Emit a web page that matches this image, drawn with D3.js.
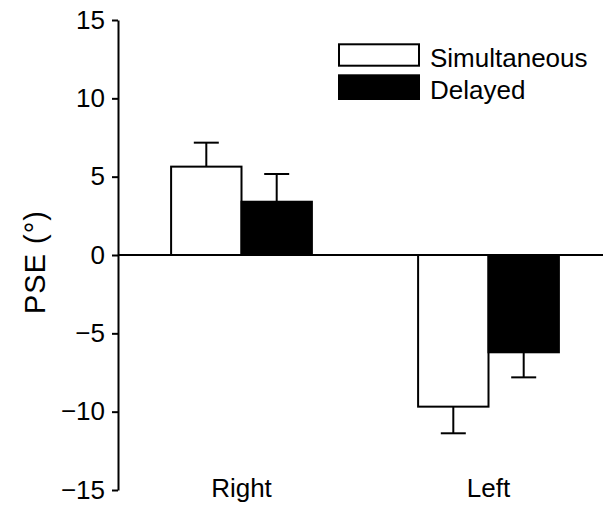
<!DOCTYPE html>
<html>
<head>
<meta charset="utf-8">
<script src="https://cdn.jsdelivr.net/npm/d3@7"></script>
<style>
  body { margin: 0; background: #fff; }
  svg { display: block; font-family: "Liberation Sans", Arial, sans-serif; }
</style>
</head>
<body>
<div id="chart"></div>
<script>
const categories = ["Right", "Left"];
const series = ["Simultaneous", "Delayed"];
const seriesFill = ["#fff", "#000"];
const means = [[5.64, 3.4], [-9.68, -6.21]];
const errors = [[1.53, 1.77], [1.7, 1.6]];
const yTicks = [-15, -10, -5, 0, 5, 10, 15];

const width = 603, height = 512;
const axisX = 118;

const svg = d3.select("#chart").append("svg")
  .attr("width", width)
  .attr("height", height);

let y = d3.scaleLinear()
  .domain([-15, 15])
  .range([490, 20]);

let x0 = d3.scaleBand()
  .domain(categories)
  .range([axisX, 612])
  .paddingInner(0.43)
  .paddingOuter(0.215);

let x1 = d3.scaleBand()
  .domain(series)
  .range([0, x0.bandwidth()]);

let rows = [];
categories.forEach((c, i) => {
  series.forEach((s, j) => {
    rows.push({ cat: c, ser: s, j: j, value: means[i][j], err: errors[i][j] });
  });
});

// error bars first, bars drawn over them
const errG = svg.append("g")
  .attr("stroke", "#000")
  .attr("stroke-width", 2);

errG.selectAll("line.stem")
  .data(rows)
  .join("line")
  .attr("class", "stem")
  .attr("x1", d => x0(d.cat) + x1(d.ser) + x1.bandwidth() / 2)
  .attr("x2", d => x0(d.cat) + x1(d.ser) + x1.bandwidth() / 2)
  .attr("y1", d => y(d.value))
  .attr("y2", d => y(d.value + Math.sign(d.value) * d.err));

errG.selectAll("line.cap")
  .data(rows)
  .join("line")
  .attr("class", "cap")
  .attr("x1", d => x0(d.cat) + x1(d.ser) + x1.bandwidth() / 2 - 12.5)
  .attr("x2", d => x0(d.cat) + x1(d.ser) + x1.bandwidth() / 2 + 12.5)
  .attr("y1", d => y(d.value + Math.sign(d.value) * d.err))
  .attr("y2", d => y(d.value + Math.sign(d.value) * d.err));

svg.append("g")
  .selectAll("rect")
  .data(rows)
  .join("rect")
  .attr("x", d => x0(d.cat) + x1(d.ser))
  .attr("width", x1.bandwidth())
  .attr("y", d => y(Math.max(0, d.value)))
  .attr("height", d => Math.abs(y(d.value) - y(0)))
  .attr("fill", d => seriesFill[d.j])
  .attr("stroke", "#000")
  .attr("stroke-width", 2);

// zero line
svg.append("line")
  .attr("x1", axisX)
  .attr("x2", width)
  .attr("y1", y(0))
  .attr("y2", y(0))
  .attr("stroke", "#000")
  .attr("stroke-width", 2);

// y axis
const yAxis = svg.append("g")
  .attr("transform", `translate(${axisX},0)`)
  .call(d3.axisLeft(y).tickValues(yTicks).tickSize(6).tickSizeOuter(0)
    .tickFormat(d => d < 0 ? "\u2212" + Math.abs(d) : d));

yAxis.select(".domain").attr("stroke-width", 2);
yAxis.selectAll(".tick line").attr("stroke-width", 2);
yAxis.selectAll(".tick text")
  .attr("x", -13)
  .attr("font-size", 26)
  .attr("font-family", "Liberation Sans, Arial, sans-serif")
  .attr("fill", "#000");

// category labels
svg.append("g")
  .selectAll("text")
  .data(categories)
  .join("text")
  .attr("x", d => x0(d) + x0.bandwidth() / 2)
  .attr("y", 496.5)
  .attr("text-anchor", "middle")
  .attr("font-size", 26)
  .text(d => d);

// y label
svg.append("text")
  .attr("transform", `translate(45,262) rotate(-90)`)
  .attr("text-anchor", "middle")
  .attr("font-size", 29)
  .attr("letter-spacing", 1)
  .text("PSE (\u00b0)");

// legend
const legend = svg.append("g")
  .selectAll("g")
  .data(series)
  .join("g")
  .attr("transform", (d, i) => `translate(339,${44.3 + i * 31})`);

legend.append("rect")
  .attr("y", (d, i) => i ? 0 : 0)
  .attr("width", 80)
  .attr("height", (d, i) => i ? 23.7 : 21.4)
  .attr("fill", (d, i) => seriesFill[i])
  .attr("stroke", "#000")
  .attr("stroke-width", 2);

legend.append("text")
  .attr("x", 91)
  .attr("y", (d, i) => i ? 24.2 : 22.4)
  .attr("font-size", 26)
  .text(d => d);
</script>
</body>
</html>
